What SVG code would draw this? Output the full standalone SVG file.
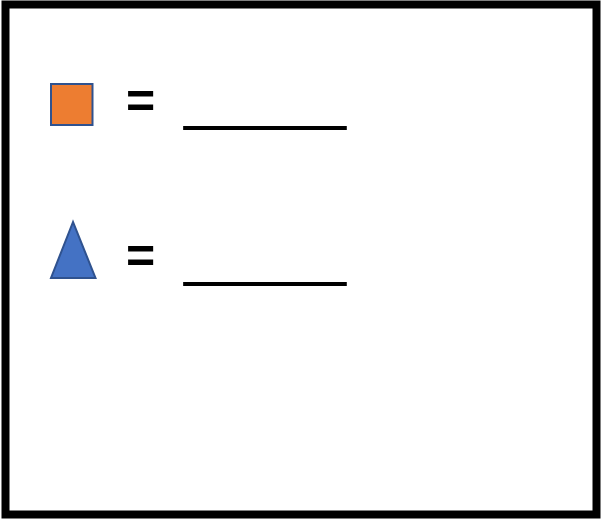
<svg xmlns="http://www.w3.org/2000/svg" width="602" height="519" viewBox="0 0 602 519">
<style>
.t{font-family:"Liberation Sans",Arial,sans-serif;font-weight:bold;fill:#000}
.u{stroke:#000;stroke-width:2.2}
.shape{stroke:#2F528F;stroke-width:2}
</style>
<rect x="0" y="0" width="602" height="519" fill="#fff"/>
<rect id="frame" x="5.5" y="4.5" width="591" height="510" fill="#fff" stroke="#000" stroke-width="8"/>
<g id="square-node">
<rect class="shape" x="51" y="84" width="41.5" height="41" fill="#ED7D31"/>
<text class="t" x="126" y="118" font-size="50">=</text>
<text class="t u" x="185" y="123" font-size="48" textLength="160" lengthAdjust="spacingAndGlyphs">_____</text>
</g>
<g id="triangle-node">
<polygon class="shape" points="73,222 51,278 95.5,278" fill="#4472C4"/>
<text class="t" x="126" y="273" font-size="50">=</text>
<text class="t u" x="185" y="279" font-size="48" textLength="160" lengthAdjust="spacingAndGlyphs">_____</text>
</g>
<g id="connectors"/>
</svg>
